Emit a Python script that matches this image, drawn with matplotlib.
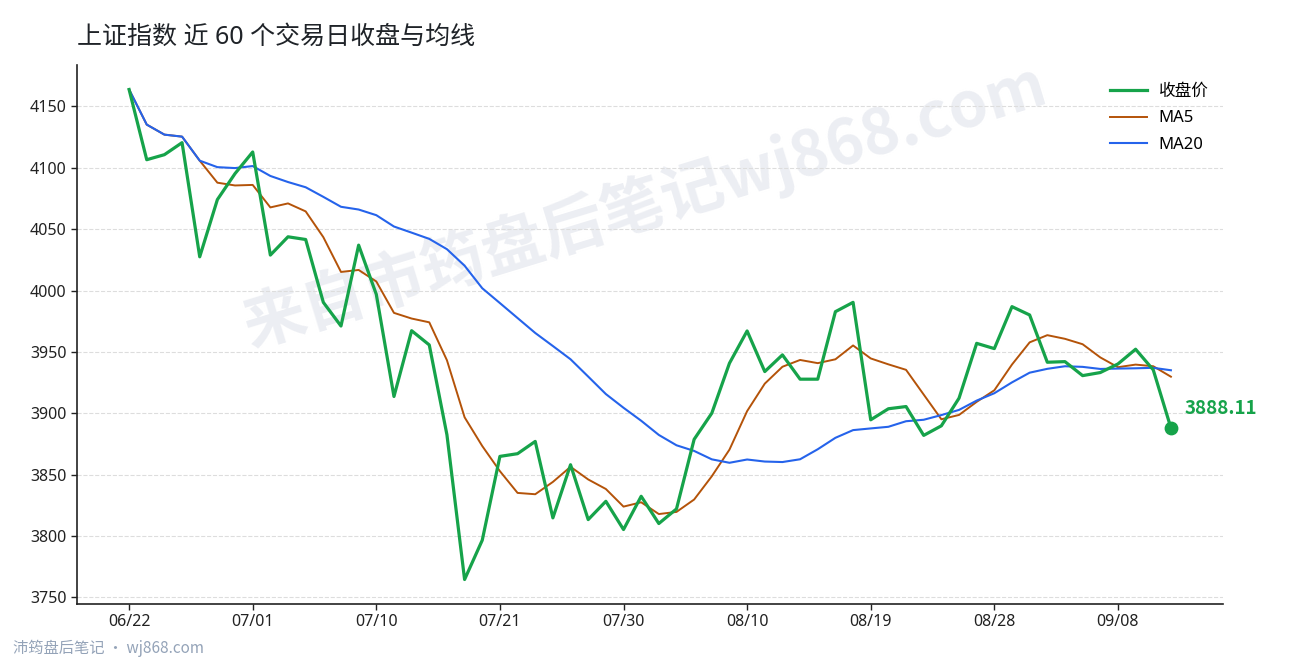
import numpy as np
import matplotlib
matplotlib.use('Agg')
import matplotlib.pyplot as plt
import pandas as pd

plt.rcParams['font.family'] = ['Noto Sans', 'Noto Sans CJK SC', 'DejaVu Sans']
CJK = ['Noto Sans CJK SC', 'DejaVu Sans']

# 数据
dates = pd.bdate_range('2026-06-22', periods=60).strftime('%m/%d').tolist()
close = [4163.8, 4106.6, 4110.7, 4120.5, 4027.5, 4074.1, 4095.3, 4112.9, 4028.9, 4043.8,
         4041.6, 3990.4, 3971.1, 4037.0, 3996.9, 3913.7, 3967.3, 3955.7, 3882.5, 3764.6,
         3796.6, 3864.9, 3867.1, 3877.1, 3814.8, 3858.1, 3813.4, 3828.3, 3805.3, 3832.4,
         3810.2, 3822.1, 3878.8, 3900.1, 3940.8, 3967.1, 3934.0, 3947.6, 3927.8, 3927.8,
         3982.8, 3990.4, 3894.7, 3903.7, 3905.5, 3882.0, 3889.8, 3912.3, 3957.0, 3952.7,
         3986.9, 3980.1, 3941.6, 3942.1, 3930.7, 3933.2, 3940.2, 3952.2, 3935.4, 3888.11]

df = pd.DataFrame({'date': dates, 'close': close})
df['ma5'] = df['close'].rolling(5, min_periods=1).mean()
df['ma20'] = df['close'].rolling(20, min_periods=1).mean()

# 画图
fig = plt.figure(figsize=(12.9, 6.6), dpi=100)
ax = fig.add_axes([77 / 1290, 56 / 660, 1146 / 1290, 539 / 660])

x = np.arange(len(df))
ax.plot(x, df['close'], color='#16a34a', lw=2.3, label='收盘价', zorder=3)
ax.plot(x, df['ma5'], color='#b45309', lw=1.4, label='MA5', zorder=2)
ax.plot(x, df['ma20'], color='#2563eb', lw=1.5, label='MA20', zorder=2)

# 最新值
ax.scatter([x[-1]], [df['close'].iloc[-1]], s=80, color='#16a34a', zorder=4)
ax.annotate(f"{df['close'].iloc[-1]:.2f}", (x[-1], df['close'].iloc[-1]),
            xytext=(10, 14), textcoords='offset points', color='#16a34a',
            fontsize=13.5, fontweight='bold', va='center', ha='left', family=CJK)

# 设置坐标
ax.set_xticks(x[::7])
ax.set_xticklabels(df['date'][::7])
ax.set_yticks(np.arange(3750, 4151, 50))
ax.tick_params(labelsize=11.5, colors='#222222', length=4, width=1)
ax.grid(axis='y', ls='--', color='#dddddd', lw=0.8)
ax.set_axisbelow(True)
for s in ['top', 'right']:
    ax.spines[s].set_visible(False)
for s in ['left', 'bottom']:
    ax.spines[s].set_linewidth(1.2)
    ax.spines[s].set_color('#222222')

ax.legend(loc='upper right', bbox_to_anchor=(1.004, 1), frameon=False, fontsize=12,
          handlelength=2.2, handletextpad=0.7, labelspacing=0.62, borderaxespad=0.75)

# 水印
ax.text(0.4956, 0.74, '来自市筠盘后笔记wj868.com', transform=ax.transAxes,
        rotation=17, ha='center', va='center', fontsize=45, fontweight='bold',
        color='#eceef3', zorder=0.5, family=CJK)

fig.text(77 / 1290, 1 - 37 / 660, '上证指数 近 60 个交易日收盘与均线',
         fontsize=18, color='#1f2328', ha='left', va='center')
fig.text(13 / 1290, 1 - 648 / 660, '沛筠盘后笔记 · wj868.com',
         fontsize=11, color='#94a3b8', ha='left', va='center', family=CJK)

plt.savefig('out.png', dpi=100)
